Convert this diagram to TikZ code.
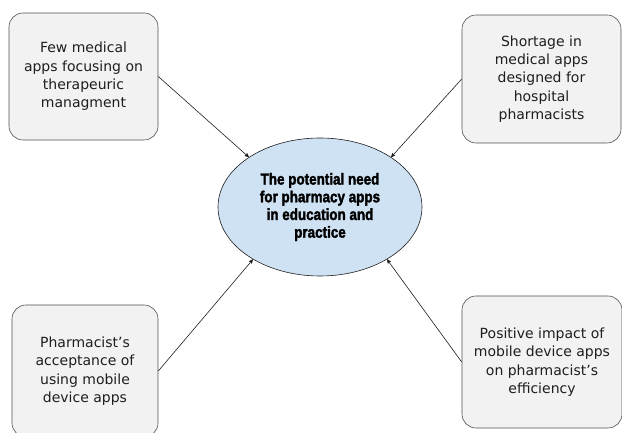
\documentclass[tikz,border=0pt]{standalone}
\usepackage{fontspec}
\setmainfont{DejaVu Sans}
\newfontfamily\needfont[FakeStretch=0.84,FakeBold=2]{Liberation Sans}
\usepackage{tikz}
\usetikzlibrary{shapes.geometric}
\usetikzlibrary{arrows}

\definecolor{boxfill}{RGB}{242,242,242}
\definecolor{boxline}{RGB}{80,80,80}
\definecolor{needfill}{RGB}{207,226,243}
\definecolor{inkgray}{RGB}{30,30,30}

\begin{document}
\begin{tikzpicture}[->,>=stealth',shorten >=0pt,auto,node distance=236pt,
                    line width=0.6pt]
\tikzstyle{factor}=[rectangle,rounded corners=14pt,draw=boxline,fill=boxfill,text=inkgray,align=center,inner sep=2pt]
\tikzstyle{need}=[ellipse,draw=inkgray,fill=needfill,text=black,align=center,inner sep=0pt]
\tikzset{font=\fontsize{14pt}{18.3pt}\selectfont}

        \useasboundingbox (0,0) rectangle (622pt,433pt);

        \node[need,minimum width=204pt,minimum height=138pt,font=\needfont\bfseries\fontsize{16pt}{17.7pt}\selectfont]   (need)   at (320pt,226pt)   {The potential need\\for pharmacy apps\\in education and\\practice};

        \node[factor,minimum width=149pt,minimum height=127pt]   (few)   [left of=need, node distance=236.5pt, yshift=130.5pt]    {Few medical\\apps focusing on\\therapeuric\\managment};
        \node[factor,minimum width=159pt,minimum height=128pt]   (short)   [right of=need, node distance=221.5pt, yshift=128pt]   {Shortage in\\medical apps\\designed for\\hospital\\pharmacists};
        \node[factor,minimum width=146pt,minimum height=132pt]   (accept)   [left of=need, node distance=235pt, yshift=-164pt]   {Pharmacist's\\acceptance of\\using mobile\\device apps};
        \node[factor,minimum width=160pt,minimum height=132pt]   (impact)   [right of=need, node distance=222pt, yshift=-155pt]   {Positive impact of\\mobile device apps\\on pharmacist's\\efficiency};

        \path[->,color=inkgray]
        (few.east)      edge node {}      (need.145)
        (short.west)    edge node {}      (need.35)
        (accept.east)   edge node {}      (need.218)
        (impact.west)   edge node {}      (need.322)
        ; %end path

\end{tikzpicture}
\end{document}
